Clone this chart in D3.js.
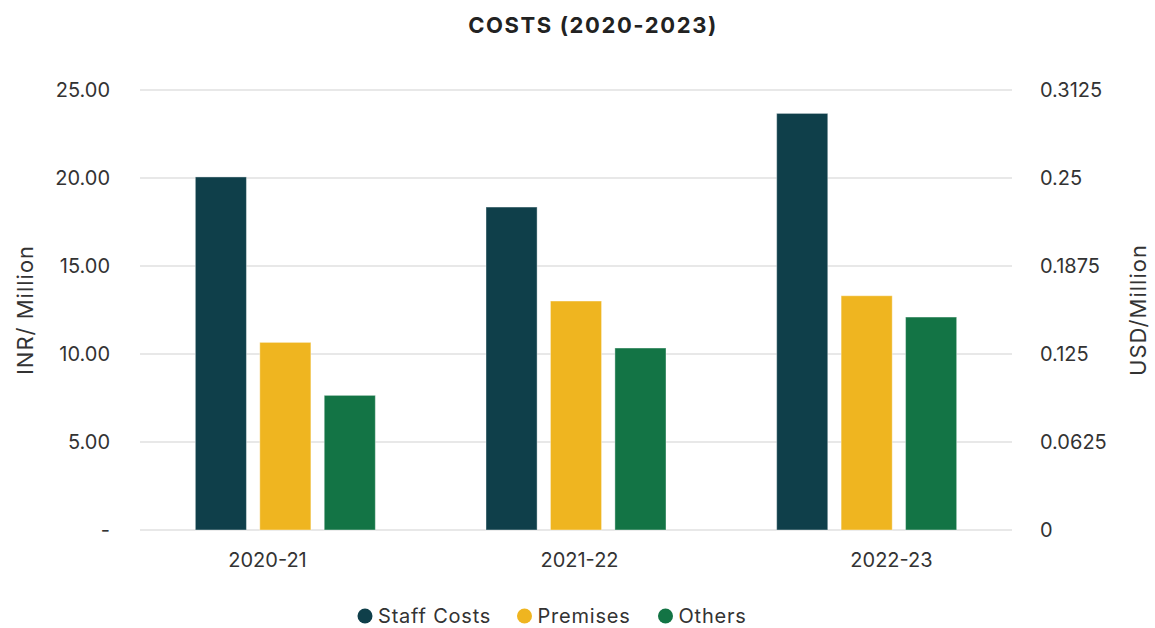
<!DOCTYPE html>
<html><head><meta charset="utf-8">
<script src="https://cdn.jsdelivr.net/npm/d3@7"></script>
<style>body{margin:0;background:#fff;font-family:Inter,"Open Sans",sans-serif;}</style>
</head><body><svg id="c" width="1155" height="628"></svg>
<script>
const categories = ["2020-21","2021-22","2022-23"];
const seriesNames = ["Staff Costs","Premises","Others"];
const staffCosts = [20.06, 18.35, 23.67];
const premises = [10.66, 13.01, 13.31];
const others = [7.65, 10.34, 12.10];
const leftTicks = [0,5,10,15,20,25];
const leftTickLabels = ["-","5.00","10.00","15.00","20.00","25.00"];
const rightTickLabels = ["0","0.0625","0.125","0.1875","0.25","0.3125"];
const colors = ["#0f3f4a","#efb520","#137445"];
const seriesValues = [staffCosts, premises, others];

const svg = d3.select("#c");
const m = {l:140, r:1012, t:90, b:530};
const x = d3.scaleBand().domain(categories).range([m.l, m.r]);
const xs = d3.scaleBand().domain(seriesNames).range([0, 180]).paddingInner(0.207);
const xLabel = d3.scalePoint().domain(categories).range([267, 891]);
const y = d3.scaleLinear().domain([0,25]).range([m.b, m.t]);
const yR = d3.scaleLinear().domain([0,0.3125]).range([m.b, m.t]);

svg.append("text").attr("x",593).attr("y",33).attr("text-anchor","middle")
  .attr("font-size",22).attr("font-weight",700).attr("letter-spacing",1.6).attr("fill","#222").text("COSTS (2020-2023)");

// grid
svg.append("g").selectAll("line").data(leftTicks).join("line")
  .attr("x1",m.l).attr("x2",m.r).attr("y1",d=>y(d)).attr("y2",d=>y(d))
  .attr("stroke","#e0e0e0").attr("stroke-width",1.5);

// left axis
const gl = svg.append("g").attr("transform",`translate(110,0)`)
  .call(d3.axisLeft(y).tickValues(leftTicks).tickSize(0).tickPadding(0).tickFormat((d,i)=>leftTickLabels[i]));
gl.select(".domain").remove();
gl.selectAll("text").attr("font-size",20).attr("fill","#333").attr("font-family","Inter,sans-serif");

// right axis
const gr = svg.append("g").attr("transform",`translate(1040,0)`)
  .call(d3.axisRight(yR).tickValues(rightTickLabels.map(Number)).tickSize(0).tickPadding(0).tickFormat((d,i)=>rightTickLabels[i]));
gr.select(".domain").remove();
gr.selectAll("text").attr("font-size",20).attr("fill","#333").attr("font-family","Inter,sans-serif");

// x axis labels
const gx = svg.append("g").attr("transform",`translate(0,${m.b})`)
  .call(d3.axisBottom(xLabel).tickSize(0).tickPadding(23));
gx.select(".domain").remove();
gx.selectAll("text").attr("font-size",20).attr("fill","#333").attr("font-family","Inter,sans-serif");

// axis titles
svg.append("text").attr("transform","translate(33,310) rotate(-90)").attr("text-anchor","middle")
  .attr("font-size",22).attr("letter-spacing",1).attr("fill","#333").text("INR/ Million");
svg.append("text").attr("transform","translate(1146,310) rotate(-90)").attr("text-anchor","middle")
  .attr("font-size",22).attr("letter-spacing",1).attr("fill","#333").text("USD/Million");

// bars
const groupOffset = (x.bandwidth()-180)/2;
seriesNames.forEach((s,si)=>{
  svg.append("g").selectAll("rect").data(categories).join("rect")
    .attr("x",c=>x(c)+groupOffset+xs(s))
    .attr("width",xs.bandwidth())
    .attr("y",(c,i)=>y(seriesValues[si][i]))
    .attr("height",(c,i)=>y(0)-y(seriesValues[si][i]))
    .attr("fill",colors[si]).attr("stroke","rgba(255,255,255,0.4)").attr("stroke-width",1);
});

// legend
const legX = [365, 524.5, 665.5];
const lg = svg.append("g");
seriesNames.forEach((s,i)=>{
  lg.append("circle").attr("cx",legX[i]).attr("cy",616).attr("r",7.5).attr("fill",colors[i]);
  lg.append("text").attr("x",legX[i]+13).attr("y",623).attr("font-size",20).attr("letter-spacing",0.8).attr("fill","#333").text(s);
});
</script></body></html>
